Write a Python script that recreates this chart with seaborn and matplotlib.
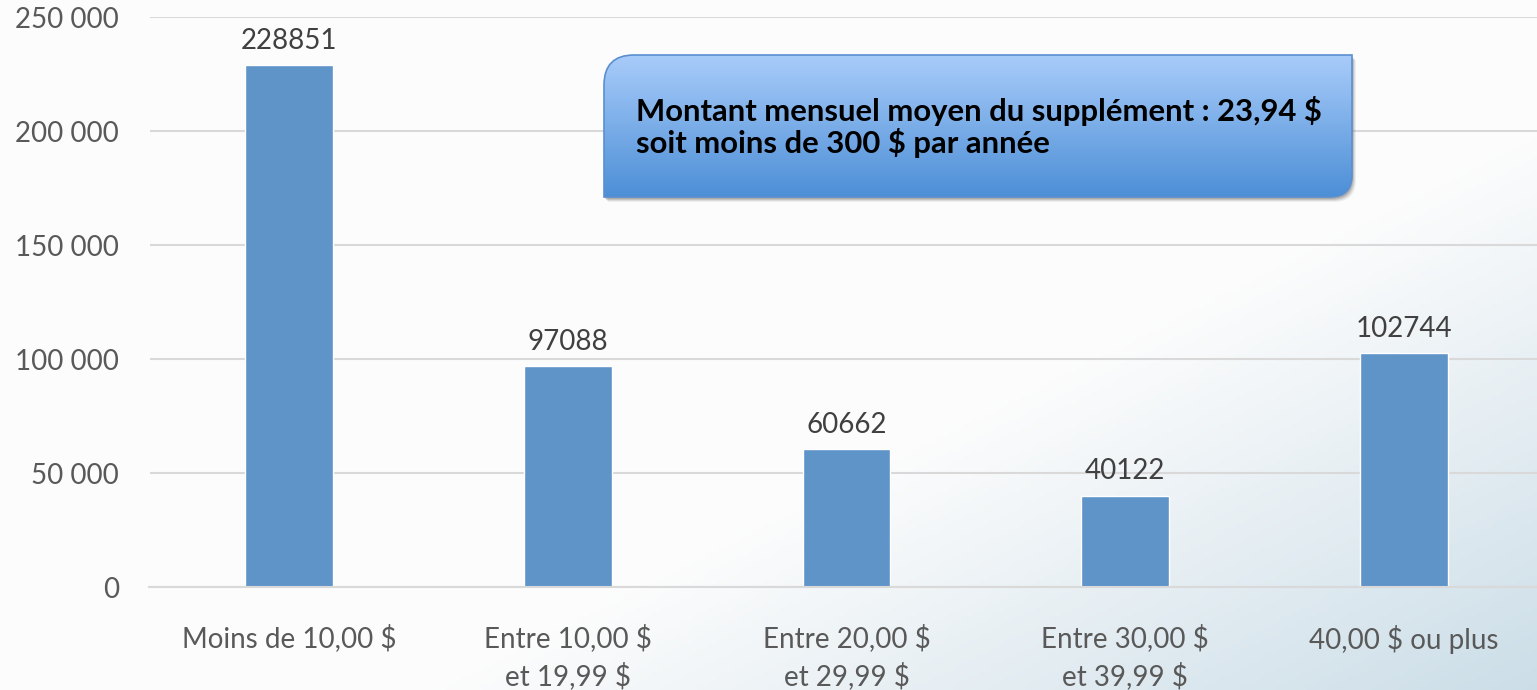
import numpy as np
import pandas as pd
import matplotlib
matplotlib.use("Agg")
import matplotlib.pyplot as plt
from matplotlib.path import Path
from matplotlib.patches import PathPatch
import seaborn as sns

# Données
categories = ["Moins de 10,00 $", "Entre 10,00 $\net 19,99 $", "Entre 20,00 $\net 29,99 $",
              "Entre 30,00 $\net 39,99 $", "40,00 $ ou plus"]
valeurs = [228851, 97088, 60662, 40122, 102744]
yticks = [0, 50000, 100000, 150000, 200000, 250000]
note = "Montant mensuel moyen du supplément : 23,94 $\nsoit moins de 300 $ par année"

W, H = 1537, 690
sns.set_theme(style="white")
plt.rcParams["font.family"] = ["Lato", "DejaVu Sans"]

fig = plt.figure(figsize=(W / 100, H / 100), dpi=100)

# fond léger façon diapositive
bg = fig.add_axes([0, 0, 1, 1], zorder=-1)
gx, gy = np.meshgrid(np.linspace(0, 1, 300), np.linspace(0, 1, 150))
t = np.clip((gx * 0.9 + gy * 0.8) - 1.05, 0, 1) / 0.65
base = np.array([0.99, 0.99, 0.99])
blue = np.array([0.80, 0.87, 0.91])
img = base[None, None, :] * (1 - t[..., None]) + blue[None, None, :] * t[..., None]
bg.imshow(img, extent=(0, 1, 1, 0), aspect="auto")
bg.set_xlim(0, 1)
bg.set_ylim(1, 0)
bg.axis("off")

ax = fig.add_axes([149.5 / W, 103 / H, 1394 / W, 570 / H])
ax.set_facecolor("none")
df = pd.DataFrame({"categorie": categories, "valeur": valeurs})
sns.barplot(data=df, x="categorie", y="valeur", color="#5F94C9", saturation=1,
            width=0.315, ax=ax)

ax.set_ylim(0, 250000)
ax.set_xlim(-0.5, len(categories) - 0.5)
ax.set_yticks(yticks)
ax.set_yticklabels([f"{v:,}".replace(",", " ") for v in yticks])
ax.yaxis.grid(True, color="#D9D9D9", linewidth=1.5)
ax.set_axisbelow(True)
for s in ["top", "right", "left"]:
    ax.spines[s].set_visible(False)
ax.spines["bottom"].set_color("#D9D9D9")
ax.spines["bottom"].set_linewidth(1.5)
ax.tick_params(axis="y", length=0, pad=22, labelsize=20, labelcolor="#595959")
ax.tick_params(axis="x", length=0, pad=27, labelsize=20, labelcolor="#595959")
for lab in ax.get_xticklabels():
    lab.set_linespacing(1.4)
ax.set_xlabel("")
ax.set_ylabel("")

for i, v in enumerate(valeurs):
    ax.annotate(str(v), (i, v), xytext=(0, 8), textcoords="offset points",
                ha="center", va="bottom", fontsize=20, color="#404040")

# encadré avec dégradé
ov = fig.add_axes([0, 0, 1, 1], zorder=5)
ov.set_facecolor("none")
x0, x1, y0, y1 = 604, 1352, 55, 197
r1, r2 = 30, 22


def forme(dx=0, dy=0):
    verts = [(x0 + dx, y1 + dy), (x0 + dx, y0 + r1 + dy), (x0 + dx, y0 + dy),
             (x0 + r1 + dx, y0 + dy), (x1 + dx, y0 + dy), (x1 + dx, y1 - r2 + dy),
             (x1 + dx, y1 + dy), (x1 - r2 + dx, y1 + dy), (x0 + dx, y1 + dy)]
    codes = [Path.MOVETO, Path.LINETO, Path.CURVE3, Path.CURVE3, Path.LINETO,
             Path.LINETO, Path.CURVE3, Path.CURVE3, Path.CLOSEPOLY]
    return Path(verts, codes)


for k, a in [(5, 0.08), (4, 0.12), (3, 0.18), (2, 0.2)]:
    ov.add_patch(PathPatch(forme(k - 1, k), facecolor="#555555", edgecolor="none", alpha=a))
grad = np.linspace(0, 1, 200)[:, None]
top_c = np.array([0.66, 0.80, 0.98])
bot_c = np.array([0.30, 0.56, 0.84])
gimg = top_c[None, None, :] * (1 - grad[..., None]) + bot_c[None, None, :] * grad[..., None]
gimg = np.repeat(gimg, 2, axis=1)
im = ov.imshow(gimg, extent=(x0, x1, y1, y0), aspect="auto", zorder=2)
boite = PathPatch(forme(), facecolor="none", edgecolor="#5B8FCF", linewidth=1.2, zorder=3)
ov.add_patch(boite)
im.set_clip_path(boite)
ov.text(636, 127, note, ha="left", va="center", fontsize=22.3, fontweight="bold",
        color="black", linespacing=1.1, zorder=4)
ov.set_xlim(0, W)
ov.set_ylim(H, 0)
ov.axis("off")

fig.savefig("out.png", dpi=100)
